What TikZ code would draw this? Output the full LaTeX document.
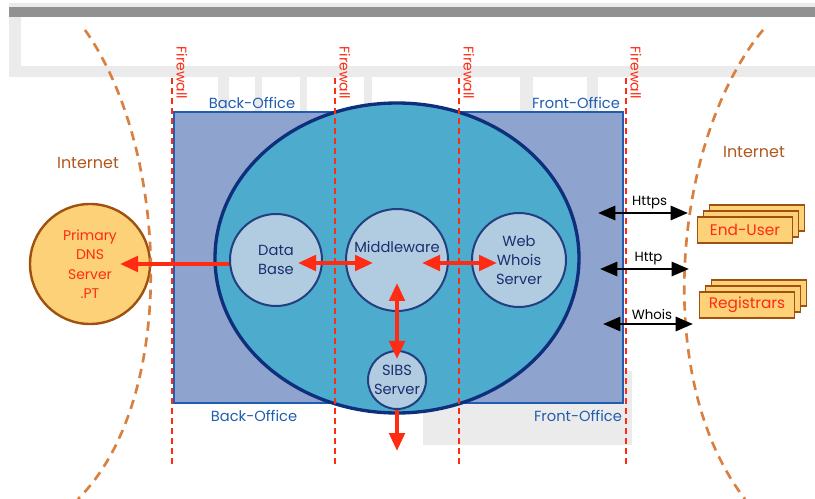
\documentclass[tikz,border=0pt]{standalone}
\usepackage{fontspec}
\setmainfont{Poppins}
\usetikzlibrary{arrows.meta, shadows}

\definecolor{barGrey}{HTML}{919191}
\definecolor{paleGrey}{HTML}{EBEBEB}
\definecolor{officeFill}{HTML}{8FA3CF}
\definecolor{officeLine}{HTML}{1F5DB0}
\definecolor{coreFill}{HTML}{4DABCE}
\definecolor{coreLine}{HTML}{0E2F7C}
\definecolor{srvFill}{HTML}{B1CBE1}
\definecolor{srvLine}{HTML}{22407F}
\definecolor{srvText}{HTML}{1A2F6E}
\definecolor{fwRed}{HTML}{FF2B12}
\definecolor{extFill}{HTML}{FDD177}
\definecolor{extLine}{HTML}{A0500F}
\definecolor{netBrown}{HTML}{B0581C}
\definecolor{netDash}{HTML}{D98040}

\tikzset{
    firewall/.style={draw=fwRed, line width=1.6pt, dash pattern=on 4.5pt off 3pt},
    fwlabel/.style={text=fwRed, rotate=-90, inner sep=0pt, font=\fontsize{10.5}{12}\selectfont},
    office/.style={text=officeLine, inner sep=0pt, font=\fontsize{11}{13}\selectfont},
    internet/.style={text=netBrown, inner sep=0pt, font=\fontsize{12}{14}\selectfont},
    netedge/.style={draw=netDash, line width=2pt, dash pattern=on 7pt off 5pt},
    server/.style={circle, draw=srvLine, line width=1.5pt, fill=srvFill, text=srvText,
        align=center, inner sep=0pt, font=\fontsize{11}{14}\selectfont},
    redarrow/.style={draw=fwRed, line width=3pt, ->, >={Triangle[length=13.5pt,width=11.5pt]}},
    redboth/.style={redarrow, <->},
    protocol/.style={draw=black, line width=2.2pt, <->, >={Triangle[length=13pt,width=10.5pt]}},
    party/.style={draw=extLine, line width=1.2pt, fill=extFill, text=fwRed,
        minimum width=71pt, minimum height=19.5pt, inner sep=0pt,
        font=\fontsize{11.5}{13}\selectfont,
        double copy shadow={shadow xshift=4.5pt, shadow yshift=4.5pt}}
}

\begin{document}
\begin{tikzpicture}[x=0.75pt, y=-0.75pt]
    \useasboundingbox (0,0) rectangle (815,499);

%%%%%%%%%%%%%%%%%%%%%%%%%%%%%%%%%%%%%%%%%%
% grey frame behind the drawing
    \fill[paleGrey] (9,3) rectangle (815,7);
    \fill[barGrey] (9,7) rectangle (815,17);
    \fill[paleGrey] (9,17) rectangle (815,77);
    \fill[white] (21,17) rectangle (815,66);
    \foreach \a/\b in {218/229, 255/262, 300/307, 364/372, 520/533, 587/598}
        \fill[paleGrey] (\a,77) rectangle (\b,112);
    \fill[paleGrey] (423,371) rectangle (632,445);

%%%%%%%%%%%%%%%%%%%%%%%%%%%%%%%%%%%%%%%%%%
% offices and core
    \draw[officeLine, line width=1.8pt, fill=officeFill] (174,112) rectangle (623,403);
    \draw[coreLine, line width=2.5pt, fill=coreFill] (397,258) ellipse [x radius=182, y radius=155];

    \node[office] (boTop) at (252,103) {Back-Office};
    \node[office] (foTop) at (576,103) {Front-Office};
    \node[office] (boBot) at (254,416) {Back-Office};
    \node[office] (foBot) at (578,416) {Front-Office};

%%%%%%%%%%%%%%%%%%%%%%%%%%%%%%%%%%%%%%%%%%
% firewalls
    \foreach \x/\n in {172/1, 335/2, 459/3, 626/4} {
        \draw[firewall] (\x,78) -- (\x,468);
        \node[fwlabel] (fw\n) at (\x+10,73) {Firewall};
    }

%%%%%%%%%%%%%%%%%%%%%%%%%%%%%%%%%%%%%%%%%%
% servers
    \node[server, minimum size=69pt] (db) at (276,260) {Data\\Base};
    \node[server, minimum size=76.5pt,
        label={[text=srvText, font=\fontsize{11}{14}\selectfont, yshift=9.75pt]center:Middleware}] (mw) at (397,260) {};
    \node[server, minimum size=70.5pt] (web) at (519,260) {Web\\Whois\\Server};
    \node[server, minimum size=43.5pt] (sibs) at (397,380) {SIBS\\Server};

    \node[circle, draw=extLine, line width=1.8pt, fill=extFill, text=fwRed, align=center,
        minimum size=90pt, inner sep=0pt, font=\fontsize{10.5}{14.6}\selectfont] (dns) at (90,264)
        {Primary\\DNS\\Server\\.PT};

%%%%%%%%%%%%%%%%%%%%%%%%%%%%%%%%%%%%%%%%%%
% internet edges
    \draw[netedge] (85,30) .. controls (170,150) and (178,400) .. (78,499);
    \draw[netedge] (763,30) .. controls (672,140) and (652,380) .. (745,499);
    \node[internet] (netL) at (88,163) {Internet};
    \node[internet] (netR) at (754,152) {Internet};

%%%%%%%%%%%%%%%%%%%%%%%%%%%%%%%%%%%%%%%%%%
% internal flows
    \draw[redarrow, shorten >=22.5pt] (db.west |- dns.center) -- (dns.center);
    \draw[redboth, shorten <=16.5pt, shorten >=18pt] ([yshift=-2.25pt]db.center) -- ([yshift=-2.25pt]mw.center);
    \draw[redboth, shorten <=18.75pt, shorten >=16.5pt] ([yshift=-2.25pt]mw.center) -- ([yshift=-2.25pt]web.center);
    \draw[redboth, shorten <=17.25pt, shorten >=15.75pt] (mw.center) -- (sibs.center);
    \coordinate (sibsOut) at (397,451);
    \draw[redarrow] (sibs.south) -- (sibsOut);

%%%%%%%%%%%%%%%%%%%%%%%%%%%%%%%%%%%%%%%%%%
% outside parties
    \node[party] (endUser) at (745,230) {End-User};
    \node[party] (registrars) at (747,305) {Registrars};

    \coordinate (httpsL) at (598,213);  \coordinate (httpsR) at (688,213);
    \coordinate (httpL)  at (600,269);  \coordinate (httpR)  at (689,269);
    \coordinate (whoisL) at (603,324);  \coordinate (whoisR) at (693,324);
    \draw[protocol] (httpsL) -- node[above, xshift=5pt, inner sep=2pt, font=\fontsize{10}{12}\selectfont] (httpsTxt) {Https} (httpsR);
    \draw[protocol] (httpL) -- node[above, xshift=3pt, inner sep=2pt, font=\fontsize{10}{12}\selectfont] (httpTxt) {Http} (httpR);
    \draw[protocol] (whoisL) -- node[above, xshift=3pt, inner sep=2pt, font=\fontsize{10}{12}\selectfont] (whoisTxt) {Whois} (whoisR);
\end{tikzpicture}
\end{document}
